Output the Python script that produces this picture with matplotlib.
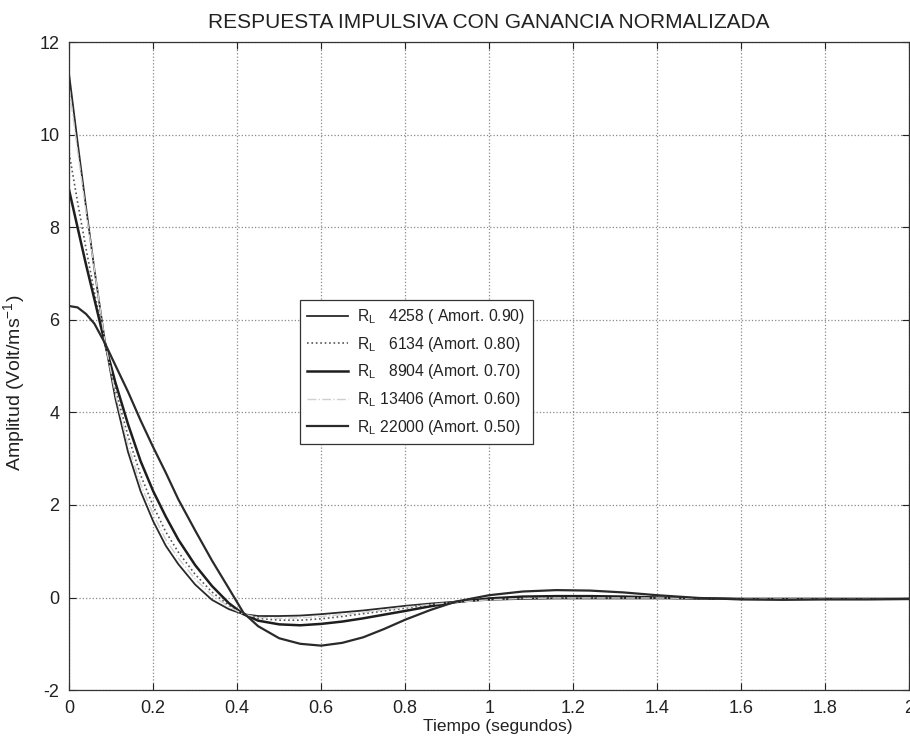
import numpy as np
import matplotlib
matplotlib.use("Agg")
import matplotlib.pyplot as plt
from matplotlib.ticker import FormatStrFormatter

plt.rcParams['font.family'] = ['Liberation Sans', 'DejaVu Sans']
plt.rcParams['mathtext.fontset'] = 'custom'
plt.rcParams['mathtext.rm'] = 'Liberation Sans'
plt.rcParams['mathtext.it'] = 'Liberation Sans'
plt.rcParams['mathtext.default'] = 'regular'

# tiempo (s), puntos
t = [0, 0.02, 0.04, 0.06, 0.085, 0.11, 0.14, 0.17, 0.2, 0.23, 0.26, 0.3, 0.34,
     0.38, 0.415, 0.45, 0.5, 0.55, 0.6, 0.65, 0.7, 0.75, 0.8, 0.86, 0.92, 1.0,
     1.08, 1.16, 1.24, 1.32, 1.4, 1.5, 1.6, 1.7, 1.8, 1.9, 2.0]

# RL 4258 (amort. 0.90)
h_4258 = [11.30, 9.85, 8.45, 7.10, 5.55, 4.30, 3.15, 2.30, 1.65, 1.12, 0.72, 0.28,
          -0.05, -0.25, -0.36, -0.40, -0.40, -0.39, -0.36, -0.32, -0.28, -0.23,
          -0.18, -0.13, -0.09, -0.05, -0.03, -0.02, -0.02, -0.02, -0.02, -0.02,
          -0.03, -0.03, -0.03, -0.03, -0.03]
# RL 6134 (amort. 0.80)
h_6134 = [9.60, 8.55, 7.55, 6.60, 5.50, 4.50, 3.50, 2.65, 1.98, 1.42, 0.98, 0.50,
          0.12, -0.17, -0.36, -0.45, -0.49, -0.49, -0.46, -0.41, -0.35, -0.29,
          -0.23, -0.16, -0.10, -0.04, -0.01, 0.0, 0.0, 0.0, -0.01, -0.02,
          -0.03, -0.03, -0.03, -0.03, -0.03]
# RL 8904 (amort. 0.70)
h_8904 = [8.80, 8.00, 7.20, 6.45, 5.50, 4.65, 3.75, 2.95, 2.30, 1.75, 1.25, 0.70,
          0.25, -0.12, -0.36, -0.50, -0.58, -0.60, -0.57, -0.52, -0.45, -0.37,
          -0.29, -0.19, -0.10, -0.02, 0.02, 0.03, 0.03, 0.02, 0.0, -0.02,
          -0.03, -0.03, -0.03, -0.03, -0.03]
# RL 13406 (amort. 0.60)
h_13406 = [11.00, 9.65, 8.35, 7.10, 5.55, 4.40, 3.30, 2.45, 1.80, 1.25, 0.85, 0.40,
           0.05, -0.20, -0.36, -0.43, -0.45, -0.44, -0.41, -0.37, -0.32, -0.27,
           -0.21, -0.15, -0.10, -0.05, -0.02, -0.01, -0.01, -0.01, -0.01, -0.02,
           -0.03, -0.03, -0.03, -0.03, -0.03]
# RL 22000 (amort. 0.50)
h_22000 = [6.30, 6.27, 6.13, 5.92, 5.50, 5.02, 4.45, 3.83, 3.25, 2.70, 2.12, 1.45,
           0.80, 0.20, -0.33, -0.62, -0.88, -1.00, -1.04, -0.98, -0.86, -0.68,
           -0.48, -0.27, -0.09, 0.05, 0.13, 0.16, 0.15, 0.11, 0.05, -0.01,
           -0.04, -0.05, -0.04, -0.04, -0.03]

etiquetas = [r'$R_L$   4258 ( Amort. 0.90)',
             r'$R_L$   6134 (Amort. 0.80)',
             r'$R_L$   8904 (Amort. 0.70)',
             r'$R_L$ 13406 (Amort. 0.60)',
             r'$R_L$ 22000 (Amort. 0.50)']


def main():
    fig = plt.figure(figsize=(9.1, 7.42), dpi=100)
    ax = fig.add_axes([0.076, 0.070, 0.923, 0.873])

    l1, = ax.plot(t, h_4258, color='#2a2a2a', lw=1.3, ls='-')
    l2, = ax.plot(t, h_6134, color='#555555', lw=1.2, ls=':')
    l3, = ax.plot(t, h_8904, color='#1e1e1e', lw=1.8, ls='-')
    l4, = ax.plot(t, h_13406, color='#d0d0d0', lw=1.0, ls='-.')
    l5, = ax.plot(t, h_22000, color='#2a2a2a', lw=1.6, ls='-')

    ax.set_xlim(0, 2)
    ax.set_ylim(-2, 12)
    ax.set_xticks(np.arange(0, 2.01, 0.2))
    ax.set_yticks(np.arange(-2, 12.1, 2))
    ax.xaxis.set_major_formatter(FormatStrFormatter('%g'))
    ax.yaxis.set_major_formatter(FormatStrFormatter('%g'))
    ax.tick_params(direction='in', length=5, width=0.8, labelsize=13,
                   pad=7, top=True, right=True, colors='#222222')
    ax.grid(True, ls=':', color='#8a8a8a', lw=0.9)
    for s in ax.spines.values():
        s.set_color('#333333')
        s.set_linewidth(0.9)

    ax.set_title('RESPUESTA IMPULSIVA CON GANANCIA NORMALIZADA',
                 fontsize=15, pad=10, color='#222222')
    ax.set_xlabel('Tiempo (segundos)', fontsize=12.5, color='#222222', labelpad=3)
    ax.xaxis.set_label_coords(0.51, -0.045)
    ax.set_ylabel('Amplitud (Volt/ms$^{-1}$)', fontsize=14, color='#222222')
    ax.yaxis.set_label_coords(-0.05, 0.475)

    leg = ax.legend([l1, l2, l3, l4, l5], etiquetas, loc='upper left',
                    bbox_to_anchor=(0.275, 0.602), borderaxespad=0, fontsize=11.3,
                    fancybox=False, shadow=False, framealpha=1,
                    edgecolor='#333333', handlelength=2.6, labelspacing=0.55,
                    borderpad=0.45, handletextpad=0.6)
    leg.get_frame().set_linewidth(0.9)
    for txt in leg.get_texts():
        txt.set_color('#222222')

    fig.savefig('out.png', dpi=100)


if __name__ == "__main__":
    main()
